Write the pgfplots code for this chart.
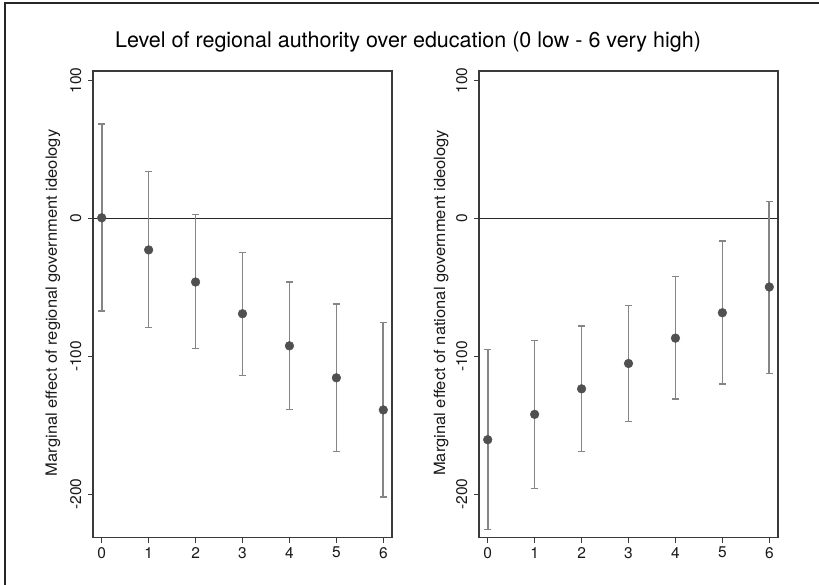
\documentclass[border=0pt]{standalone}
\usepackage{pgfplots}
\pgfplotsset{compat=1.18}
\usepackage{pgfplotstable}
\usepackage{graphicx}
\usepackage{fontspec}
\setmainfont{TeX Gyre Heros}
\definecolor{axgray}{HTML}{3A3A3A}
\definecolor{bargray}{HTML}{858585}
\definecolor{dotgray}{HTML}{505050}

\pgfplotstableread{
x y lo hi
0 0.5 -67.2 68.6
1 -22.8 -79.0 34.2
2 -46.1 -94.3 2.7
3 -69.1 -113.7 -24.5
4 -92.4 -138.7 -46.1
5 -115.6 -169.2 -62.1
6 -138.9 -202.0 -75.4
}\regtable

\pgfplotstableread{
x y lo hi
0 -160.5 -225.5 -95.3
1 -142.1 -195.9 -88.3
2 -123.6 -169.2 -78.1
3 -105.2 -147.2 -63.1
4 -86.8 -130.9 -42.2
5 -68.4 -120.0 -16.3
6 -49.7 -112.3 12.4
}\nattable

\pgfplotsset{
  meplot/.style={
    scale only axis, width=299pt, height=466.7pt,
    xmin=-0.185, xmax=6.185, ymin=-231.6, ymax=107,
    xtick={0,1,2,3,4,5,6}, ytick={-200,-100,0,100},
    xtick pos=bottom, ytick pos=left, tick align=outside,
    major tick length=5pt,
    axis line style={axgray, line width=1.5pt},
    every tick/.style={axgray, line width=1.2pt},
    tick label style={font=\fontsize{15.5}{17}\selectfont, text=black!90},
    /pgf/number format/assume math mode=true,
    yticklabel style={rotate=90, anchor=south},
    yticklabel shift=3pt,
    xticklabel shift=1pt,
    ylabel style={font=\fontsize{15.5}{17}\selectfont, text=black!90, at={(axis description cs:-0.134,0.503)}, anchor=center},
  },
  ebars/.style={only marks, mark=none,
    error bars/.cd, y dir=both, y explicit,
    error bar style={draw=bargray, line width=1.7pt},
    error mark options={draw=bargray, rotate=90, mark size=3.7pt, line width=1.3pt}},
  dots/.style={only marks, mark=*, mark size=4.4pt, mark options={fill=dotgray, draw=dotgray}},
}

\begin{document}
\begin{tikzpicture}
\useasboundingbox (0pt,0pt) rectangle (819pt,-585pt);
\draw[line width=2pt, black!85] (5pt,-585pt) -- (5pt,-3pt) -- (819pt,-3pt);
\node[anchor=base, font=\fontsize{21.5}{24}\selectfont, text=black] at (408pt,-48pt) {Level of regional authority over education (0 low - 6 very high)};

\begin{axis}[meplot, at={(93pt,-537.7pt)}, anchor=south west,
  ylabel={\scalebox{1.065}[1]{Marginal effect of regional government ideology}}]
\addplot[black!85, line width=1.5pt] coordinates {(-0.185,0) (6.185,0)};
\addplot[ebars] table[x=x, y=y, y error plus expr=\thisrow{hi}-\thisrow{y}, y error minus expr=\thisrow{y}-\thisrow{lo}] {\regtable};
\addplot[dots] table[x=x, y=y] {\regtable};
\end{axis}

\begin{axis}[meplot, at={(479pt,-537.7pt)}, anchor=south west,
  ylabel style={at={(axis description cs:-0.127,0.503)}},
  ylabel={\scalebox{1.065}[1]{Marginal effect of national government ideology}}]
\addplot[black!85, line width=1.5pt] coordinates {(-0.185,0) (6.185,0)};
\addplot[ebars] table[x=x, y=y, y error plus expr=\thisrow{hi}-\thisrow{y}, y error minus expr=\thisrow{y}-\thisrow{lo}] {\nattable};
\addplot[dots] table[x=x, y=y] {\nattable};
\end{axis}
\end{tikzpicture}
\end{document}
